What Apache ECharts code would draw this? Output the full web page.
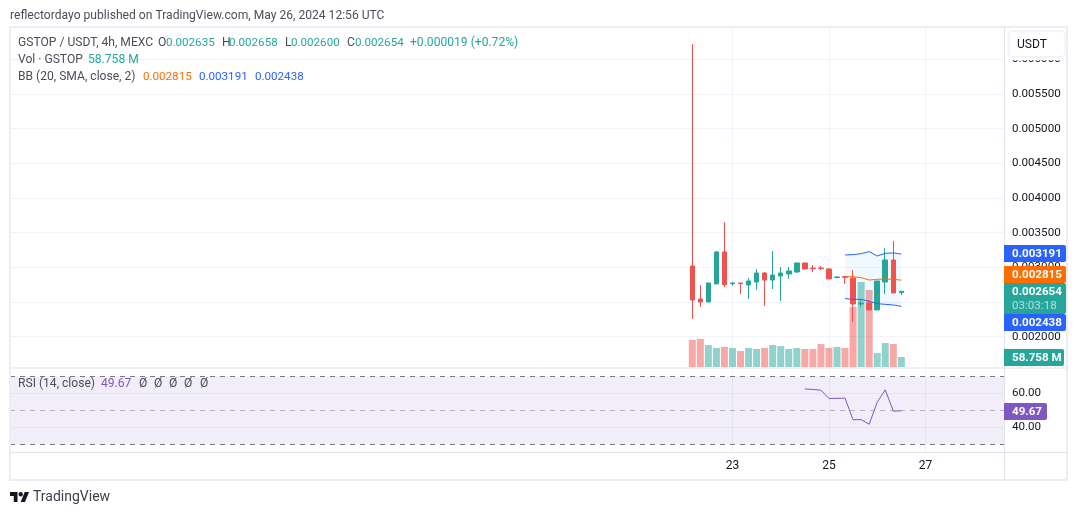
<!DOCTYPE html>
<html><head><meta charset="utf-8">
<style>html,body{margin:0;padding:0;background:#fff}#c{width:1080px;height:515px}</style>
<script src="https://cdn.jsdelivr.net/npm/echarts@6/dist/echarts.min.js"></script>
</head><body><div id="c"></div>
<script>
// ---- data ----
const opens  = [.003019,.002543,.0025,.00276,.003221,.002764,.002774,.002745,.002788,.002918,.002817,.002875,.002904,.002933,.003063,.00299,.00299,.002976,.002851,.002865,.002846,.002471,.002486,.002385,.002788,.003106,.002635];
const closes = [.002529,.0025,.002774,.003221,.00275,.002774,.002764,.002803,.002918,.002817,.002889,.002918,.002947,.003063,.002976,.002981,.002981,.002832,.002861,.002856,.002471,.002481,.002385,.002803,.003106,.00263,.002654];
const lows   = [.002255,.002428,.0025,.00276,.002716,.002731,.002615,.002543,.002673,.002442,.002688,.002514,.002832,.002918,.002976,.002933,.002962,.002832,.002846,.00276,.002212,.002428,.002385,.002385,.002615,.00263,.0026];
const highs  = [.006221,.002745,.002774,.003236,.003654,.002788,.002774,.002846,.002976,.002933,.003236,.003005,.003005,.003063,.003063,.003034,.003019,.00299,.002875,.002875,.002962,.002529,.002529,.002803,.003279,.00338,.002658];
const volumes = [159,165,129,112,118,112,94,112,106,112,129,123,106,112,106,106,135,112,118,112,353,500,453,82,141,135,58.758];
const bbUpper = [.003178,.003183,.003197,.003226,.003163,.003202,.003207,.003191];
const bbMiddle= [.002865,.002865,.002851,.002817,.002827,.002832,.002827,.002815];
const bbLower = [.002548,.002538,.002538,.00251,.002476,.002466,.002457,.002438];
const bbStart = 19;
const rsiValues = [62.5,62.2,61.8,56.9,57,57.1,44.4,44.5,41.8,54.7,62,49.5,49.67];
const rsiStart = 14;
const priceTicks = [.002,.0025,.003,.0035,.004,.0045,.005,.0055,.006];
const rsiTicks = [40,60];
const timeTickIndex = [5,17,29];
const timeTickLabels = ['23','25','27'];

// ---- styles ----
const UP='#26a69a', DOWN='#ef5350', GRID='#f0f3fa', TXT='#131722', SUB='#4a4e59';
const FONT='Roboto, sans-serif';
const XMIN=-84.86, XMAX=38.77;

const candle = opens.map((o,i)=>[i,o,closes[i],lows[i],highs[i]]);
const vols = volumes.map((v,i)=>({value:[i,v],itemStyle:{color:closes[i]>=opens[i]?'rgba(38,166,154,.5)':'rgba(239,83,80,.5)'}}));
const at=(arr,start)=>arr.map((v,i)=>[start+i,v]);

function xAxis(idx,showLabel){
  return {type:'value',gridIndex:idx,min:XMIN,max:XMAX,
    axisLine:{show:false},
    axisTick:{show:false,customValues:timeTickIndex},
    axisLabel:{show:showLabel,customValues:timeTickIndex,margin:8,color:TXT,fontFamily:FONT,fontSize:12,
      formatter:v=>timeTickLabels[timeTickIndex.indexOf(v)]||''},
    splitLine:{show:idx!==1,lineStyle:{color:GRID,width:1}}};
}

function txt(x,y,s,fill,opt){
  return Object.assign({type:'text',x,y:y+0.8,z:50,silent:true,style:Object.assign({text:s,fill,font:'12.1px '+FONT,textVerticalAlign:'middle',textBaseline:'middle'},opt||{})});
}
const NUM={font:'11.6px '+FONT};
function tag(y0,y1,w,color,lines){
  const els=[{type:'rect',z:40,silent:true,shape:{x:1004,y:y0,width:w,height:y1-y0,r:[0,2,2,0]},style:{fill:color}}];
  lines.forEach(l=>els.push(txt(1012,l[0],l[1],l[2]||'#fff',{font:(l[3]||'bold')+' 11.6px '+FONT})));
  return els;
}
const legend=[
 txt(10,15,'reflectordayo published on TradingView.com, May 26, 2024 12:56 UTC',SUB),
 txt(18,42,'GSTOP / USDT, 4h, MEXC',SUB),
 txt(158,42,'O',SUB),txt(166,42,'0.002635',UP,NUM),
 txt(222,42,'H',SUB),txt(229,42,'0.002658',UP,NUM),
 txt(285,42,'L',SUB),txt(291,42,'0.002600',UP,NUM),
 txt(347,42,'C',SUB),txt(355,42,'0.002654',UP,NUM),
 txt(410,42,'+0.000019 (+0.72%)',UP),
 txt(18,59,'Vol · GSTOP',SUB),txt(88,59,'58.758 M',UP),
 txt(18,76,'BB (20, SMA, close, 2)',SUB),
 txt(143,76,'0.002815','#ff6d00',NUM),txt(199,76,'0.003191','#2962ff',NUM),txt(255,76,'0.002438','#2962ff',NUM),
 txt(18,383,'RSI (14, close)',SUB),txt(101,383,'49.67','#7e57c2'),
 txt(139,383,'Ø',SUB),txt(154,383,'Ø',SUB),txt(169,383,'Ø',SUB),txt(184,383,'Ø',SUB),txt(200,383,'Ø',SUB),
 txt(33,497,'TradingView','#3b3f48',{font:'14px '+FONT})
];
const logoT=[[0,6],[14,6],[14,24],[7,24],[7,13],[0,13]], logoSlash=[[28,24],[20,24],[27.5,6],[35.5,6]];
const logoPt=p=>[10+p[0]*.535,492+(p[1]-6)*.555];
const graphics=[
 {type:'rect',z:30,silent:true,shape:{x:10,y:27,width:1057,height:453},style:{fill:'none',stroke:'#eceef3',lineWidth:2}},
 {type:'line',z:30,silent:true,shape:{x1:10,y1:368,x2:1067,y2:368},style:{stroke:'#e0e3eb',lineWidth:1}},
 {type:'line',z:30,silent:true,shape:{x1:10,y1:452.5,x2:1067,y2:452.5},style:{stroke:'#e0e3eb',lineWidth:1}},
 {type:'line',z:30,silent:true,shape:{x1:1004.5,y1:27,x2:1004.5,y2:480},style:{stroke:'#e0e3eb',lineWidth:1}},
 {type:'rect',z:39,silent:true,shape:{x:1006,y:29,width:60,height:31.3},style:{fill:'#fff'}},
 {type:'rect',z:40,silent:true,shape:{x:1008.5,y:31,width:57,height:26,r:5},style:{fill:'#fff',stroke:'#f0f3fa',lineWidth:2}},
 txt(1017,44,'USDT',TXT),
 ...tag(245,262,62,'#2962ff',[[253.5,'0.003191']]),
 ...tag(266,283,62,'#ff6d00',[[274.5,'0.002815']]),
 ...tag(283,314,62,UP,[[291.5,'0.002654'],[305.5,'03:03:18','rgba(255,255,255,.65)','normal']]),
 ...tag(314,331,62,'#2962ff',[[322.5,'0.002438']]),
 ...tag(349,366,60,UP,[[357.5,'58.758 M']]),
 ...tag(403,420,43,'#7e57c2',[[411.5,'49.67']]),
 {type:'polygon',z:50,silent:true,shape:{points:logoT.map(logoPt)},style:{fill:'#131722'}},
 {type:'polygon',z:50,silent:true,shape:{points:logoSlash.map(logoPt)},style:{fill:'#131722'}},
 {type:'circle',z:50,silent:true,shape:{cx:20.7,cy:494.2,r:2.2},style:{fill:'#131722'}},
 ...legend
];

const chart=echarts.init(document.getElementById('c'),null,{renderer:'canvas'});
chart.setOption({
  animation:false,backgroundColor:'#fff',
  grid:[
    {left:10,right:76,top:27,height:340},
    {left:10,right:76,top:27,height:340},
    {left:10,right:76,top:369,height:83}
  ],
  xAxis:[xAxis(0,false),xAxis(1,false),xAxis(2,true)],
  yAxis:[
    {type:'value',gridIndex:0,position:'right',min:.0015624,max:.006466,
     axisLine:{show:false},axisTick:{show:false,customValues:priceTicks},
     axisLabel:{customValues:priceTicks,margin:8,color:TXT,fontFamily:FONT,fontSize:11.6,formatter:v=>v.toFixed(6)},
     splitLine:{show:true,lineStyle:{color:GRID,width:1}}},
    {type:'value',gridIndex:1,min:0,max:2000,show:false,splitLine:{show:false}},
    {type:'value',gridIndex:2,position:'right',min:25.5,max:74.2,
     axisLine:{show:false},axisTick:{show:false,customValues:rsiTicks},
     axisLabel:{customValues:rsiTicks,margin:8,color:TXT,fontFamily:FONT,fontSize:11.6,formatter:v=>v.toFixed(2)},
     splitLine:{show:true,lineStyle:{color:GRID,width:1}}}
  ],
  series:[
    {type:'bar',name:'Vol',xAxisIndex:1,yAxisIndex:1,barWidth:7,z:1,data:vols},
    {type:'custom',xAxisIndex:0,yAxisIndex:0,z:2,silent:true,encode:{x:0,y:1},data:at(bbUpper,bbStart),
     renderItem:(params,api)=>{
       if(params.dataIndex!==0) return null;
       const top=bbUpper.map((v,i)=>api.coord([bbStart+i,v]));
       const bot=bbLower.map((v,i)=>api.coord([bbStart+i,v])).reverse();
       return {type:'polygon',shape:{points:top.concat(bot)},style:{fill:'rgba(33,150,243,.06)'}};
     }},
    {type:'candlestick',xAxisIndex:0,yAxisIndex:0,z:3,barWidth:5,encode:{x:0,y:[1,2,3,4]},
     itemStyle:{color:UP,color0:DOWN,borderColor:UP,borderColor0:DOWN,borderWidth:1},data:candle},
    {type:'line',xAxisIndex:0,yAxisIndex:0,z:4,symbol:'none',lineStyle:{color:'#2962ff',width:1},data:at(bbUpper,bbStart)},
    {type:'line',xAxisIndex:0,yAxisIndex:0,z:4,symbol:'none',lineStyle:{color:'#ff6d00',width:1},data:at(bbMiddle,bbStart)},
    {type:'line',xAxisIndex:0,yAxisIndex:0,z:4,symbol:'none',lineStyle:{color:'#2962ff',width:1},data:at(bbLower,bbStart)},
    {type:'line',xAxisIndex:2,yAxisIndex:2,z:4,symbol:'none',lineStyle:{color:'#7e57c2',width:1},data:at(rsiValues,rsiStart),
     markArea:{silent:true,z:0,itemStyle:{color:'rgba(126,87,194,.1)'},data:[[{yAxis:70},{yAxis:30}]]},
     markLine:{silent:true,symbol:'none',label:{show:false},animation:false,
       data:[{yAxis:70,lineStyle:{color:'#787b86',type:[5,5],width:1}},{yAxis:50,lineStyle:{color:'rgba(120,123,134,.5)',type:[5,5],width:1}},{yAxis:30,lineStyle:{color:'#787b86',type:[5,5],width:1}}]}}
  ],
  graphic:{elements:graphics}
});
</script></body></html>
